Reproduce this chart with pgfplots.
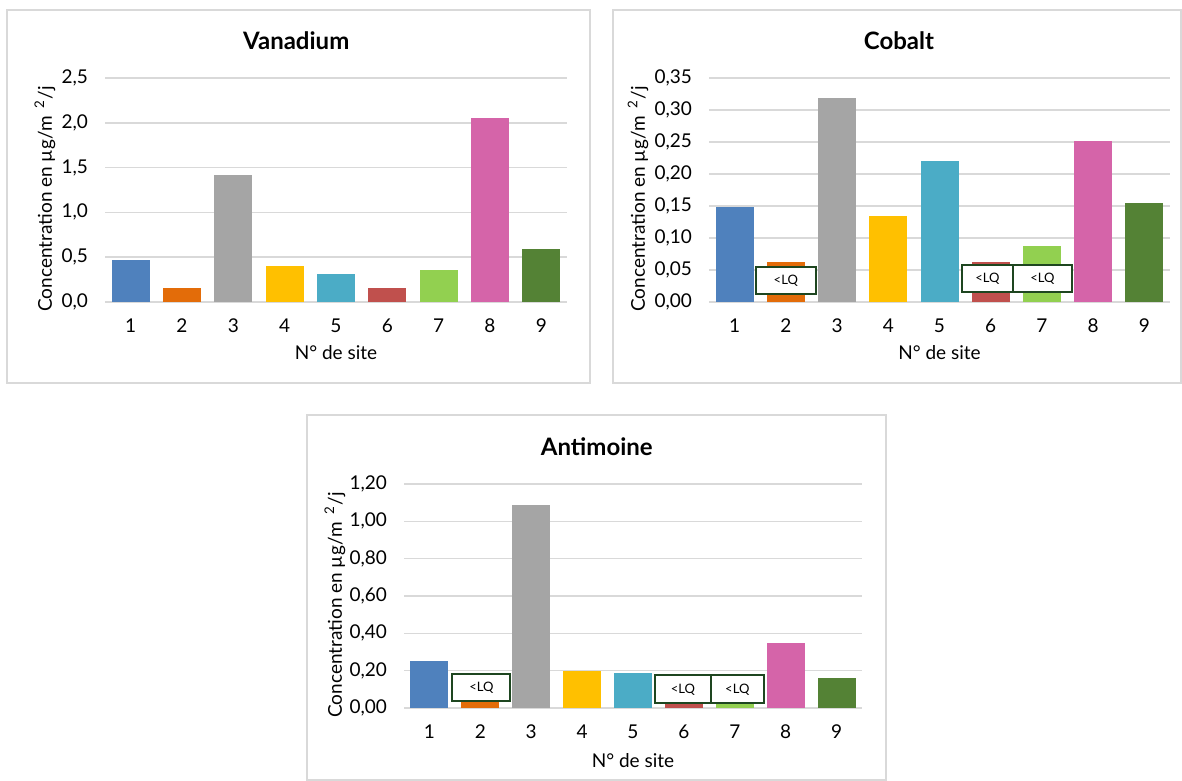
\documentclass[border=0pt]{standalone}
\usepackage{fontspec}
\setmainfont{Lato}
\usepackage{pgfplots}
\pgfplotsset{compat=1.18}

\definecolor{c1}{HTML}{4F81BD}
\definecolor{c2}{HTML}{E36C09}
\definecolor{c3}{HTML}{A5A5A5}
\definecolor{c4}{HTML}{FFC000}
\definecolor{c5}{HTML}{4BACC6}
\definecolor{c6}{HTML}{C0504D}
\definecolor{c7}{HTML}{92D050}
\definecolor{c8}{HTML}{D564A9}
\definecolor{c9}{HTML}{548235}
\definecolor{gridgray}{HTML}{D9D9D9}
\definecolor{lqgreen}{HTML}{1E4620}

\tikzset{
  lq/.style={draw=lqgreen, line width=1pt, fill=white},
  lqtext/.style={font=\fontsize{6.5}{7}\selectfont},
}
\pgfplotsset{
  site/.style={
    scale only axis,
    height=112pt,
    xmin=0.5, xmax=9.5, ymin=0,
    xtick={1,...,9},
    xticklabels={1,2,3,4,5,6,7,8,9},
    axis line style={draw=none},
    tick style={draw=none},
    ymajorgrids=true,
    grid style={gridgray, line width=0.8pt},
    font=\fontsize{9.5}{11}\selectfont,
    /pgf/number format/assume math mode=true,
    xticklabel style={anchor=north, yshift=-5pt},
    yticklabel style={anchor=east, xshift=-5pt,
      /pgf/number format/.cd, use comma, fixed, fixed zerofill},
    xlabel={N° de site},
    ylabel={Concentration en µg/m~\,\textsuperscript{2}/j},
    xlabel style={at={(axis description cs:0.5,0)}, anchor=center, yshift=-25.5pt},
    title style={font=\fontsize{12}{14}\selectfont\bfseries, anchor=center, yshift=12.5pt},
  },
  bar/.style={ybar, bar width=19pt, bar shift=0pt, draw=none},
}

\begin{document}
\begin{tikzpicture}
% page size and chart frames
\path (0,0) rectangle (591pt,389pt);
\draw[gridgray, line width=0.7pt] (3.5pt,384pt) rectangle (295pt,197.5pt);
\draw[gridgray, line width=0.7pt] (306.5pt,384pt) rectangle (590.5pt,197.5pt);
\draw[gridgray, line width=0.7pt] (153.5pt,181.5pt) rectangle (443pt,-1pt);

% Vanadium
\begin{axis}[site, at={(52.5pt,238pt)}, anchor=south west, width=231pt,
  ymax=2.5, ytick={0,0.5,...,2.5},
  yticklabel style={/pgf/number format/precision=1},
  title={Vanadium}, title style={at={(axis description cs:0.414,1)}},
  ylabel style={at={(axis description cs:-0.13,0.46)}, anchor=center}]
\addplot[bar, fill=c1] coordinates {(1,0.47)};
\addplot[bar, fill=c2] coordinates {(2,0.16)};
\addplot[bar, fill=c3] coordinates {(3,1.42)};
\addplot[bar, fill=c4] coordinates {(4,0.40)};
\addplot[bar, fill=c5] coordinates {(5,0.31)};
\addplot[bar, fill=c6] coordinates {(6,0.16)};
\addplot[bar, fill=c7] coordinates {(7,0.36)};
\addplot[bar, fill=c8] coordinates {(8,2.05)};
\addplot[bar, fill=c9] coordinates {(9,0.59)};
\end{axis}

% Cobalt
\begin{axis}[site, at={(354.5pt,238pt)}, anchor=south west, width=230.5pt,
  ymax=0.35, ytick={0,0.05,...,0.35},
  yticklabel style={/pgf/number format/precision=2},
  title={Cobalt}, title style={at={(axis description cs:0.412,1)}},
  ylabel style={at={(axis description cs:-0.154,0.46)}, anchor=center}]
\addplot[bar, fill=c1] coordinates {(1,0.149)};
\addplot[bar, fill=c2] coordinates {(2,0.062)};
\addplot[bar, fill=c3] coordinates {(3,0.318)};
\addplot[bar, fill=c4] coordinates {(4,0.135)};
\addplot[bar, fill=c5] coordinates {(5,0.221)};
\addplot[bar, fill=c6] coordinates {(6,0.062)};
\addplot[bar, fill=c7] coordinates {(7,0.088)};
\addplot[bar, fill=c8] coordinates {(8,0.251)};
\addplot[bar, fill=c9] coordinates {(9,0.154)};
\draw[lq] (axis cs:1.42,0.012) rectangle (axis cs:2.58,0.055);
\node[lqtext] at (axis cs:2,0.0335) {<LQ};
\draw[lq] (axis cs:5.43,0.016) rectangle (axis cs:6.44,0.058);
\node[lqtext] at (axis cs:5.935,0.037) {<LQ};
\draw[lq] (axis cs:6.44,0.016) rectangle (axis cs:7.58,0.058);
\node[lqtext] at (axis cs:7.01,0.037) {<LQ};
\end{axis}

% Antimoine
\begin{axis}[site, at={(202pt,35pt)}, anchor=south west, width=229pt,
  ymax=1.2, ytick={0,0.2,...,1.2},
  yticklabel style={/pgf/number format/precision=2},
  title={Antimoine}, title style={at={(axis description cs:0.421,1)}},
  ylabel style={at={(axis description cs:-0.151,0.46)}, anchor=center},
  xlabel style={yshift=-1pt}]
\addplot[bar, fill=c1] coordinates {(1,0.25)};
\addplot[bar, fill=c2] coordinates {(2,0.06)};
\addplot[bar, fill=c3] coordinates {(3,1.09)};
\addplot[bar, fill=c4] coordinates {(4,0.197)};
\addplot[bar, fill=c5] coordinates {(5,0.186)};
\addplot[bar, fill=c6] coordinates {(6,0.05)};
\addplot[bar, fill=c7] coordinates {(7,0.05)};
\addplot[bar, fill=c8] coordinates {(8,0.347)};
\addplot[bar, fill=c9] coordinates {(9,0.163)};
\draw[lq] (axis cs:1.45,0.036) rectangle (axis cs:2.59,0.183);
\node[lqtext] at (axis cs:2.02,0.11) {<LQ};
\draw[lq] (axis cs:5.43,0.027) rectangle (axis cs:6.53,0.176);
\node[lqtext] at (axis cs:5.98,0.10) {<LQ};
\draw[lq] (axis cs:6.53,0.027) rectangle (axis cs:7.57,0.176);
\node[lqtext] at (axis cs:7.05,0.10) {<LQ};
\end{axis}
\end{tikzpicture}
\end{document}
